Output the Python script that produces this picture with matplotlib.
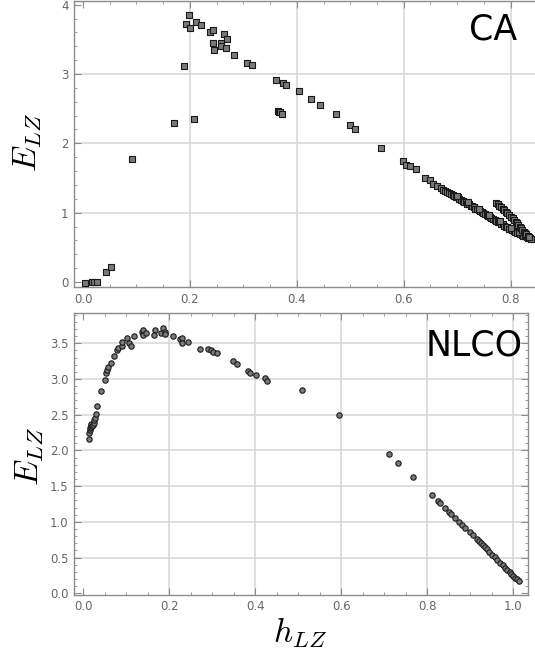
import matplotlib
matplotlib.use("Agg")
import matplotlib.pyplot as plt
from matplotlib.ticker import MultipleLocator

# ---- CA: entropy density h_LZ vs effective complexity E_LZ ----
ca_h = [0.004, 0.016, 0.021, 0.027, 0.043, 0.0525, 0.091, 0.170, 0.2075, 0.188,
        0.199, 0.193, 0.201, 0.212, 0.220, 0.2375, 0.243, 0.2425, 0.245, 0.264,
        0.270, 0.2575, 0.259, 0.267, 0.2825, 0.306, 0.3155,
        0.361, 0.374, 0.380, 0.365, 0.367, 0.369, 0.372, 0.404, 0.426, 0.443,
        0.4725, 0.500, 0.509, 0.5575, 0.5995, 0.605, 0.611, 0.623, 0.640, 0.649,
        0.654, 0.662, 0.669,
        0.674, 0.678, 0.681, 0.685, 0.688, 0.692, 0.695, 0.698, 0.701, 0.704,
        0.707, 0.710, 0.713, 0.716, 0.719, 0.722, 0.725, 0.728, 0.731, 0.734,
        0.737, 0.740, 0.743, 0.746, 0.749, 0.752, 0.755, 0.758, 0.761, 0.764,
        0.767, 0.770, 0.773, 0.776, 0.779, 0.782, 0.785, 0.788, 0.791, 0.794,
        0.797, 0.800, 0.803, 0.806, 0.809, 0.812, 0.815, 0.818, 0.821, 0.824,
        0.827, 0.830, 0.833, 0.836, 0.838,
        0.700, 0.720, 0.740, 0.760, 0.780, 0.800, 0.815, 0.826,
        0.7725, 0.776, 0.779, 0.782, 0.785, 0.788, 0.791, 0.794, 0.7975, 0.801,
        0.804, 0.807, 0.810, 0.8125, 0.8145, 0.817, 0.819, 0.822, 0.8245, 0.827,
        0.829, 0.832, 0.835]
ca_E = [-0.01, 0.0, 0.0, 0.0, 0.15, 0.21, 1.78, 2.29, 2.35, 3.115,
        3.85, 3.72, 3.66, 3.75, 3.71, 3.61, 3.64, 3.45, 3.34, 3.57,
        3.51, 3.45, 3.41, 3.375, 3.27, 3.16, 3.13,
        2.91, 2.87, 2.84, 2.46, 2.455, 2.45, 2.43, 2.75, 2.635, 2.55,
        2.43, 2.27, 2.21, 1.94, 1.75, 1.69, 1.67, 1.635, 1.50, 1.47,
        1.42, 1.385, 1.35,
        1.33, 1.31, 1.30, 1.29, 1.27, 1.26, 1.24, 1.23, 1.22, 1.20,
        1.19, 1.17, 1.16, 1.15, 1.13, 1.12, 1.10, 1.09, 1.08, 1.06,
        1.05, 1.04, 1.02, 1.01, 0.99, 0.98, 0.96, 0.95, 0.94, 0.92,
        0.91, 0.90, 0.88, 0.87, 0.86, 0.84, 0.83, 0.81, 0.80, 0.79,
        0.77, 0.76, 0.75, 0.73, 0.72, 0.71, 0.70, 0.69, 0.68, 0.67,
        0.66, 0.65, 0.64, 0.63, 0.62,
        1.24, 1.15, 1.06, 0.965, 0.875, 0.785, 0.72, 0.68,
        1.135, 1.12, 1.10, 1.08, 1.06, 1.035, 1.01, 0.99, 0.965, 0.94,
        0.92, 0.895, 0.87, 0.845, 0.82, 0.80, 0.775, 0.75, 0.725, 0.71,
        0.69, 0.67, 0.65]

# ---- NLCO ----
nlco_h = [0.0123, 0.014, 0.015, 0.016, 0.017, 0.018, 0.019, 0.020, 0.022, 0.024,
          0.025, 0.027, 0.029, 0.0316,
          0.041, 0.050, 0.052, 0.0555, 0.058, 0.064, 0.071, 0.0795, 0.081, 0.091,
          0.091, 0.102, 0.107, 0.110, 0.118, 0.136, 0.139, 0.139, 0.146, 0.166,
          0.165, 0.181, 0.1845, 0.189, 0.191, 0.208, 0.226, 0.229, 0.229, 0.2435,
          0.272, 0.291, 0.297, 0.302, 0.311, 0.348, 0.357, 0.382, 0.388, 0.401,
          0.422, 0.428, 0.509, 0.594, 0.7115, 0.731, 0.767, 0.8116, 0.8256, 0.829,
          0.841, 0.850, 0.856, 0.865, 0.874, 0.881, 0.888, 0.898, 0.906, 0.915,
          0.9195, 0.924, 0.929, 0.9335, 0.938, 0.944, 0.950, 0.957, 0.963, 0.969,
          0.975, 0.981, 0.986, 0.991, 0.995, 1.000, 1.004, 1.008, 1.012]
nlco_E = [2.16, 2.25, 2.28, 2.31, 2.33, 2.35, 2.37, 2.34, 2.36, 2.38,
          2.42, 2.46, 2.51, 2.62,
          2.83, 2.98, 3.08, 3.13, 3.17, 3.23, 3.32, 3.40, 3.43, 3.46,
          3.52, 3.58, 3.51, 3.46, 3.60, 3.66, 3.69, 3.61, 3.65, 3.69,
          3.62, 3.65, 3.72, 3.66, 3.63, 3.60, 3.56, 3.58, 3.51, 3.52,
          3.42, 3.42, 3.41, 3.38, 3.37, 3.25, 3.21, 3.11, 3.08, 3.05,
          3.01, 2.97, 2.84, 2.50, 1.95, 1.83, 1.63, 1.376, 1.292, 1.268,
          1.19, 1.143, 1.106, 1.05, 0.998, 0.956, 0.914, 0.858, 0.816, 0.756,
          0.728, 0.70, 0.672, 0.644, 0.616, 0.578, 0.54, 0.504, 0.466, 0.428,
          0.392, 0.354, 0.326, 0.298, 0.27, 0.242, 0.218, 0.196, 0.176]

W, H = 535, 659
plt.rcParams['mathtext.fontset'] = 'cm'
fig = plt.figure(figsize=(W / 100, H / 100), dpi=100)

frame_col = '#8c8c8c'
grid_col = '#d9d9d9'
label_col = '#666666'


def style(ax, xgrid, ygrid, xmaj, xmin, ymaj, ymin, right=True):
    for s in ax.spines.values():
        s.set_color(frame_col)
        s.set_linewidth(1.0)
    ax.xaxis.set_major_locator(MultipleLocator(xmaj))
    ax.xaxis.set_minor_locator(MultipleLocator(xmin))
    ax.yaxis.set_major_locator(MultipleLocator(ymaj))
    ax.yaxis.set_minor_locator(MultipleLocator(ymin))
    ax.tick_params(which='both', direction='in', top=True, right=right,
                   color=frame_col, labelcolor=label_col, labelsize=8.5)
    ax.tick_params(which='major', length=5, width=0.8, pad=4)
    ax.tick_params(which='minor', length=2.5, width=0.6)
    for g in xgrid:
        ax.axvline(g, color=grid_col, lw=1.2, zorder=0)
    for g in ygrid:
        ax.axhline(g, color=grid_col, lw=1.2, zorder=0)


ax1 = fig.add_axes([74 / W, 1 - 287 / H, 462 / W, 286 / H])
ax1.set_xlim(-0.0169, 0.8475)
ax1.set_ylim(-0.072, 4.053)
style(ax1, [0.2, 0.4, 0.6, 0.8], [1, 2, 3], 0.2, 0.05, 1, 0.2, right=False)
ax1.spines['right'].set_visible(False)
ax1.scatter(ca_h, ca_E, marker='s', s=13, facecolor='#7a7a7a',
            edgecolor='#1a1a1a', linewidth=0.8, zorder=3)

ax2 = fig.add_axes([74 / W, 1 - 594.7 / H, 454 / W, 281.4 / H])
ax2.set_xlim(-0.0216, 1.034)
ax2.set_ylim(-0.02, 3.92)
style(ax2, [0.2, 0.4, 0.6, 0.8, 1.0], [0.5, 1.0, 1.5, 2.0, 2.5, 3.0, 3.5],
      0.2, 0.05, 0.5, 0.1)
ax2.scatter(nlco_h, nlco_E, marker='o', s=15, facecolor='#7a7a7a',
            edgecolor='#1a1a1a', linewidth=0.8, zorder=3)

fig.text(517 / W, 1 - 40 / H, 'CA', ha='right', va='baseline', fontsize=25)
fig.text(523 / W, 1 - 355 / H, 'NLCO', ha='right', va='baseline', fontsize=25)
fig.text(27 / W, 1 - 142 / H, r'$E_{LZ}$', rotation=90, ha='center',
         va='center', fontsize=24)
fig.text(30 / W, 1 - 456 / H, r'$E_{LZ}$', rotation=90, ha='center',
         va='center', fontsize=24)
fig.text(300 / W, 1 - 633 / H, r'$h_{LZ}$', ha='center', va='center',
         fontsize=24)

fig.savefig('out.png', dpi=100)
